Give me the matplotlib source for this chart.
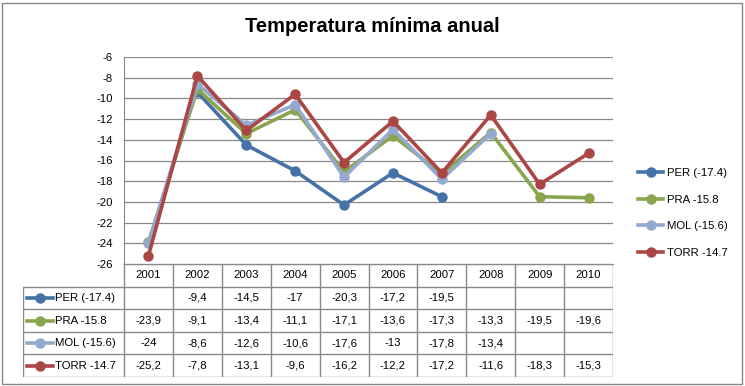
import numpy as np
import matplotlib.pyplot as plt
from matplotlib.patches import Rectangle
from matplotlib.lines import Line2D

plt.rcParams['font.family'] = ['Liberation Sans', 'DejaVu Sans']
plt.rcParams['axes.unicode_minus'] = False

# Data
years = ['2001', '2002', '2003', '2004', '2005', '2006', '2007', '2008', '2009', '2010']
labels = ['PER (-17.4)', 'PRA -15.8', 'MOL (-15.6)', 'TORR -14.7']
per = [np.nan, -9.4, -14.5, -17, -20.3, -17.2, -19.5, np.nan, np.nan, np.nan]
pra = [-23.9, -9.1, -13.4, -11.1, -17.1, -13.6, -17.3, -13.3, -19.5, -19.6]
mol = [-24, -8.6, -12.6, -10.6, -17.6, -13, -17.8, -13.4, np.nan, np.nan]
torr = [-25.2, -7.8, -13.1, -9.6, -16.2, -12.2, -17.2, -11.6, -18.3, -15.3]
series = [per, pra, mol, torr]
colors = ['#4572A7', '#89A54E', '#93A9CF', '#AA4643']

W, H = 745, 386
fig = plt.figure(figsize=(W / 100, H / 100), dpi=100)
fig.patches.append(Rectangle((2 / W, 2 / H), 740 / W, 381 / H, transform=fig.transFigure,
                             fill=False, edgecolor='#888888', linewidth=1))

fig.text(372 / W, 1 - 26 / H, 'Temperatura mínima anual', ha='center', va='center',
         fontsize=14.5, fontweight='bold')

fs = 8.2
lw = 2.6
ms = 6.5

# main plot
left, right, top, bottom = 124, 613, 57, 264
ax = fig.add_axes([left / W, 1 - bottom / H, (right - left) / W, (bottom - top) / H])
x = np.arange(len(years))
for s, c, lab in zip(series, colors, labels):
    ax.plot(x, s, color=c, linewidth=lw, marker='o', markersize=ms, label=lab)
ax.set_xlim(-0.5, len(years) - 0.5)
ax.set_ylim(-26, -6)
ax.set_yticks(np.arange(-26, -5, 2))
ax.set_xticks([])
ax.tick_params(axis='y', labelsize=fs, length=0, pad=8)
ax.yaxis.grid(True, color='#888888', linewidth=0.9)
ax.set_axisbelow(True)
for sp in ['top', 'right']:
    ax.spines[sp].set_visible(False)
ax.spines['left'].set_color('#888888')
ax.spines['bottom'].set_color('#888888')

handles = [Line2D([0], [0], color=c, linewidth=lw, marker='o', markersize=ms) for c in colors]
fig.legend(handles, labels, loc='center left', bbox_to_anchor=(628 / W, 1 - 213 / H),
           frameon=False, fontsize=fs, handlelength=2.2, labelspacing=1.45, handletextpad=0.3)

# data table
tl = 23
ncol = len(years)
colw = (right - left) / ncol
hdr = (left - tl) / colw
tax = fig.add_axes([tl / W, 1 - 377 / H, (right - tl) / W, (377 - 264) / H])
tax.set_xlim(-0.5 - hdr, ncol - 0.5)
tax.set_ylim(5, 0)
tax.axis('off')
lc = '#888888'
# vertical lines
for i in range(ncol + 1):
    tax.plot([i - 0.5, i - 0.5], [0, 5], color=lc, linewidth=1)
tax.plot([-0.5 - hdr] * 2, [1, 5], color=lc, linewidth=1)
# horizontal lines
tax.plot([-0.5, ncol - 0.5], [0, 0], color=lc, linewidth=1)
for r in range(1, 6):
    tax.plot([-0.5 - hdr, ncol - 0.5], [r, r], color=lc, linewidth=1)
for i, yr in enumerate(years):
    tax.text(i, 0.5, yr, ha='center', va='center', fontsize=fs)
for r, (s, c, lab) in enumerate(zip(series, colors, labels), start=1):
    x0 = -0.5 - hdr + 4 / colw
    x1 = x0 + 26 / colw
    tax.plot([x0, x1], [r + 0.5, r + 0.5], color=c, linewidth=lw)
    tax.plot([(x0 + x1) / 2], [r + 0.5], marker='o', color=c, markersize=ms)
    tax.text(x1 + 2 / colw, r + 0.5, lab, ha='left', va='center', fontsize=fs)
    for i, v in enumerate(s):
        if not np.isnan(v):
            txt = ('%g' % v).replace('.', ',')
            tax.text(i, r + 0.5, txt, ha='center', va='center', fontsize=fs)

fig.savefig('out.png', dpi=100)
